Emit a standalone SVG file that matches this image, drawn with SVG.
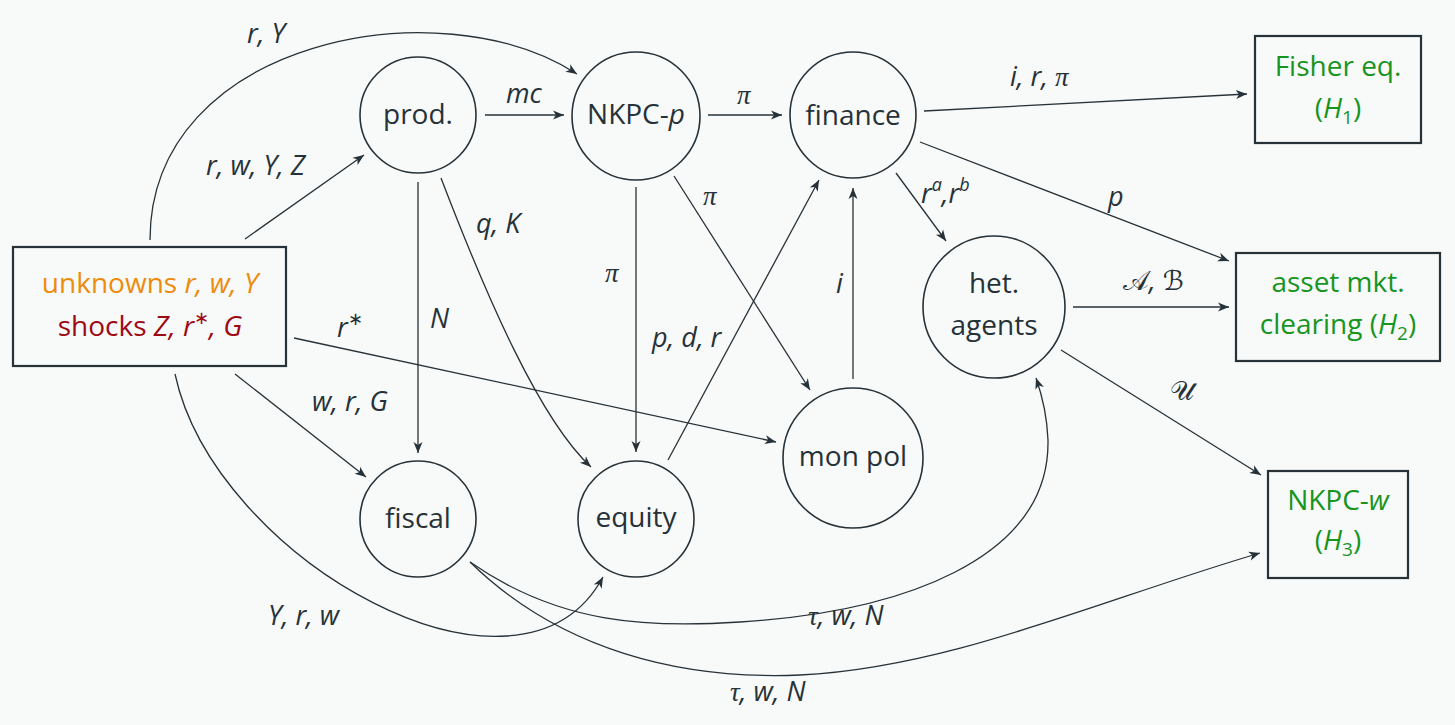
<svg xmlns="http://www.w3.org/2000/svg" width="1455" height="725" viewBox="0 0 1455 725">
<defs>
<marker id="arr" viewBox="-12 -6 14 12" refX="0" refY="0" markerWidth="14" markerHeight="12" markerUnits="userSpaceOnUse" orient="auto">
<path d="M0,0 L-11,-4.5 L-8,0 L-11,4.5 Z" fill="#263238"/>
</marker>
<style>
.bg{fill:#f8f9f9}
.node{fill:none;stroke:#263238;stroke-width:1.6}
.box{fill:none;stroke:#263238;stroke-width:2.2}
.edge{fill:none;stroke:#263238;stroke-width:1.3;marker-end:url(#arr)}
.nt{font-family:"Open Sans","Noto Sans",sans-serif;font-size:28px;fill:#263238;text-anchor:middle}
.lb{font-family:"Open Sans","Noto Sans",sans-serif;font-size:27px;font-style:italic;fill:#263238}
.gr{font-family:"Liberation Serif","DejaVu Serif",serif;font-style:italic}
.sc{font-family:"DejaVu Sans","Noto Sans",sans-serif;font-style:normal}
.bt{font-family:"Open Sans","Noto Sans",sans-serif;font-size:28px;text-anchor:middle}
.or{fill:#ec8c0c}
.rd{fill:#9e0a14}
.gn{fill:#17951f}
.it{font-style:italic}
</style>
</defs>
<rect class="bg" x="0" y="0" width="1455" height="725"/>

<g id="connectors">
<path class="edge" d="M150,240 C150,40 440,-15 577,74"/>
<path class="edge" d="M245,239 L364,155"/>
<path class="edge" d="M485,115 L564,115"/>
<path class="edge" d="M708,115 L782,115"/>
<path class="edge" d="M924,111 L1247,94"/>
<path class="edge" d="M920,142 L1229,261"/>
<path class="edge" d="M896,173 L946,241"/>
<path class="edge" d="M1073,307 L1229,307"/>
<path class="edge" d="M1061,350 L1261,475"/>
<path class="edge" d="M418,182 L418,453"/>
<path class="edge" d="M441,178 C487,298 540,420 591,467"/>
<path class="edge" d="M235,374 L366,477"/>
<path class="edge" d="M294,338 L776,442"/>
<path class="edge" d="M636,187 L636,452"/>
<path class="edge" d="M674,176 L810,390"/>
<path class="edge" d="M668,460 L819,180"/>
<path class="edge" d="M853,379 L853,188"/>
<path class="edge" d="M175,374 C215,560 520,730 603,577"/>
<path class="edge" d="M470,562 C560,625 650,628 740,622 C900,612 1050,560 1048,440 C1047,415 1042,395 1036,378"/>
<path class="edge" d="M470,562 C560,650 680,680 800,675 C950,668 1100,600 1260,553"/>
</g>

<g id="edge-labels">
<text class="lb" x="247" y="43">r, Y</text>
<text class="lb" x="206" y="175">r, w, Y, Z</text>
<text class="lb" x="506" y="103">mc</text>
<text class="lb gr" x="737" y="104">π</text>
<text class="lb" x="1010" y="86">i, r, <tspan class="gr">π</tspan></text>
<text class="lb" x="1108" y="206">p</text>
<text class="lb" x="921" y="203">r<tspan font-size="18" dy="-12">a</tspan><tspan dy="12">,r</tspan><tspan font-size="18" dy="-12">b</tspan></text>
<text class="lb" x="1123" y="290"><tspan class="sc">𝒜</tspan>, <tspan class="sc">ℬ</tspan></text>
<text class="lb sc" x="1170" y="400">𝒰</text>
<text class="lb" x="430" y="328">N</text>
<text class="lb" x="476" y="233">q, K</text>
<text class="lb gr" x="605" y="282">π</text>
<text class="lb gr" x="703" y="205">π</text>
<text class="lb" x="652" y="347">p, d, r</text>
<text class="lb" x="836" y="293">i</text>
<text class="lb" x="337" y="337">r<tspan font-size="18" dy="-12" font-style="normal">∗</tspan></text>
<text class="lb" x="312" y="411">w, r, G</text>
<text class="lb" x="268" y="625">Y, r, w</text>
<text class="lb" x="808" y="625"><tspan class="gr">τ</tspan>, w, N</text>
<text class="lb" x="730" y="701"><tspan class="gr">τ</tspan>, w, N</text>
</g>

<g id="unknowns">
<rect class="box" x="13" y="247" width="273" height="119"/>
<text class="bt or" x="150" y="293">unknowns <tspan class="it">r, w, Y</tspan></text>
<text class="bt rd" x="150" y="336">shocks <tspan class="it">Z, r</tspan><tspan font-size="18" dy="-12">∗</tspan><tspan dy="12" class="it">, G</tspan></text>
</g>

<g id="prod">
<circle class="node" cx="418" cy="115" r="58"/>
<text class="nt" x="418" y="124">prod.</text>
</g>
<g id="nkpc-p">
<circle class="node" cx="636" cy="116" r="64"/>
<text class="nt" x="636" y="124">NKPC-<tspan class="it">p</tspan></text>
</g>
<g id="finance">
<circle class="node" cx="853" cy="115" r="63"/>
<text class="nt" x="853" y="125">finance</text>
</g>
<g id="het-agents">
<circle class="node" cx="994" cy="307" r="71"/>
<text class="nt" x="994" y="293">het.</text>
<text class="nt" x="994" y="335">agents</text>
</g>
<g id="mon-pol">
<circle class="node" cx="853" cy="458" r="70"/>
<text class="nt" x="853" y="466">mon pol</text>
</g>
<g id="equity">
<circle class="node" cx="636" cy="519" r="58"/>
<text class="nt" x="636" y="527">equity</text>
</g>
<g id="fiscal">
<circle class="node" cx="418" cy="519" r="58"/>
<text class="nt" x="418" y="528">fiscal</text>
</g>

<g id="fisher">
<rect class="box" x="1255" y="36" width="166" height="107"/>
<text class="bt gn" x="1338" y="76">Fisher eq.</text>
<text class="bt gn" x="1338" y="118">(<tspan class="it">H</tspan><tspan font-size="19" dy="6">1</tspan><tspan dy="-6">)</tspan></text>
</g>
<g id="asset">
<rect class="box" x="1236" y="253" width="204" height="108"/>
<text class="bt gn" x="1338" y="292">asset mkt.</text>
<text class="bt gn" x="1338" y="334">clearing (<tspan class="it">H</tspan><tspan font-size="19" dy="6">2</tspan><tspan dy="-6">)</tspan></text>
</g>
<g id="nkpc-w">
<rect class="box" x="1268" y="471" width="140" height="107"/>
<text class="bt gn" x="1338" y="510">NKPC-<tspan class="it">w</tspan></text>
<text class="bt gn" x="1338" y="550">(<tspan class="it">H</tspan><tspan font-size="19" dy="6">3</tspan><tspan dy="-6">)</tspan></text>
</g>
</svg>
